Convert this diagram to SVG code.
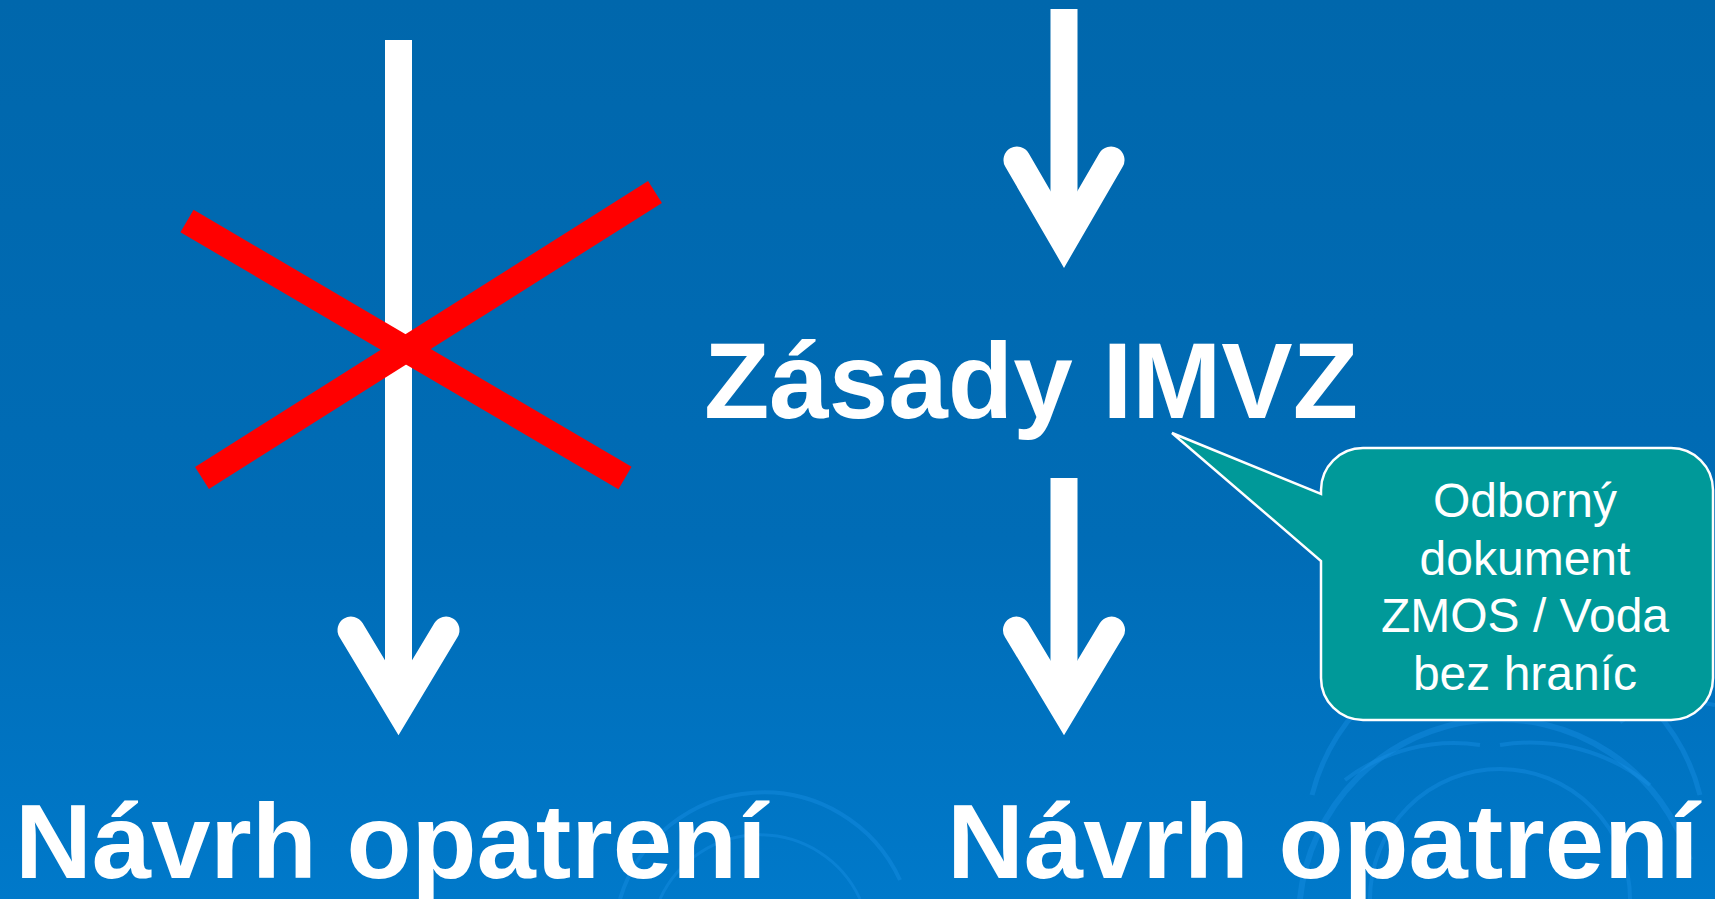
<svg xmlns="http://www.w3.org/2000/svg" width="1715" height="899" viewBox="0 0 1715 899">
  <defs>
    <linearGradient id="bg" x1="0" y1="0" x2="0" y2="1">
      <stop offset="0" stop-color="#0067AC"/>
      <stop offset="0.6" stop-color="#006CB6"/>
      <stop offset="1" stop-color="#0079CA"/>
    </linearGradient>
  </defs>
  <style>
    .shaft { stroke: #FFFFFF; stroke-width: 27; fill: none; stroke-linecap: butt; }
    .head { stroke: #FFFFFF; stroke-width: 27; fill: none; stroke-linecap: round; stroke-linejoin: miter; stroke-miterlimit: 4; }
    .cross { stroke: #FF0000; stroke-width: 26; stroke-linecap: butt; }
    .big { font-family: "Liberation Sans", Arial, sans-serif; font-weight: bold; fill: #FFFFFF; }
    .note { font-family: "Liberation Sans", Arial, sans-serif; font-size: 48px; fill: #FFFFFF; text-anchor: middle; }
    .swirl { fill: none; stroke: #1A90E6; stroke-opacity: 0.4; }
  </style>
  <rect x="0" y="0" width="1715" height="899" fill="url(#bg)"/>
  <g id="background-swirls">
    <path class="swirl" stroke-width="5" d="M1312,795 A200,200 0 0 1 1700,795"/>
    <path class="swirl" stroke-width="4" d="M1345,780 A180,180 0 0 1 1480,745"/>
    <path class="swirl" stroke-width="4" d="M1500,745 A190,190 0 0 1 1650,785"/>
    <path class="swirl" stroke-width="6" d="M1300,899 A200,200 0 0 1 1690,860"/>
    <path class="swirl" stroke-width="4" d="M1370,899 A130,130 0 0 1 1630,899"/>
    <path class="swirl" stroke-width="4" d="M620,899 A150,150 0 0 1 900,880"/>
    <path class="swirl" stroke-width="3" d="M660,899 A110,110 0 0 1 860,899"/>
    <path class="swirl" stroke-width="4" d="M1620,722 A120,120 0 0 1 1715,705"/>
  </g>
  <g id="connectors">
    <g id="arrow-left">
      <line class="shaft" x1="398.5" y1="40" x2="398.5" y2="700"/>
      <path class="head" d="M351,630 L398.5,709 L446,630"/>
    </g>
    <g id="arrow-right-top">
      <line class="shaft" x1="1064" y1="9" x2="1064" y2="232"/>
      <path class="head" d="M1017,160 L1064,241 L1111,160"/>
    </g>
    <g id="arrow-right-bottom">
      <line class="shaft" x1="1064" y1="478" x2="1064" y2="700"/>
      <path class="head" d="M1016.5,630 L1064,709 L1111.5,630"/>
    </g>
  </g>
  <g id="cross">
    <line class="cross" x1="187" y1="221" x2="625" y2="478"/>
    <line class="cross" x1="202" y1="478" x2="655" y2="192"/>
  </g>
  <g id="node-zasady">
    <text class="big" x="1031" y="418" font-size="107" text-anchor="middle">Zásady IMVZ</text>
  </g>
  <g id="node-navrh-left">
    <text class="big" x="15" y="878" font-size="106.5">Návrh opatrení</text>
  </g>
  <g id="node-navrh-right">
    <text class="big" x="947" y="878" font-size="106.5">Návrh opatrení</text>
  </g>
  <g id="callout">
    <path d="M1363,448 H1671 A42,42 0 0 1 1713,490 V678 A42,42 0 0 1 1671,720 H1363 A42,42 0 0 1 1321,678 V561 L1172,433 L1321,494 V490 A42,42 0 0 1 1363,448 Z" fill="#009999" stroke="#FFFFFF" stroke-width="2.5"/>
    <text class="note" x="1525" y="517">Odborný</text>
    <text class="note" x="1525" y="575">dokument</text>
    <text class="note" x="1525" y="632">ZMOS / Voda</text>
    <text class="note" x="1525" y="690">bez hraníc</text>
  </g>
</svg>
